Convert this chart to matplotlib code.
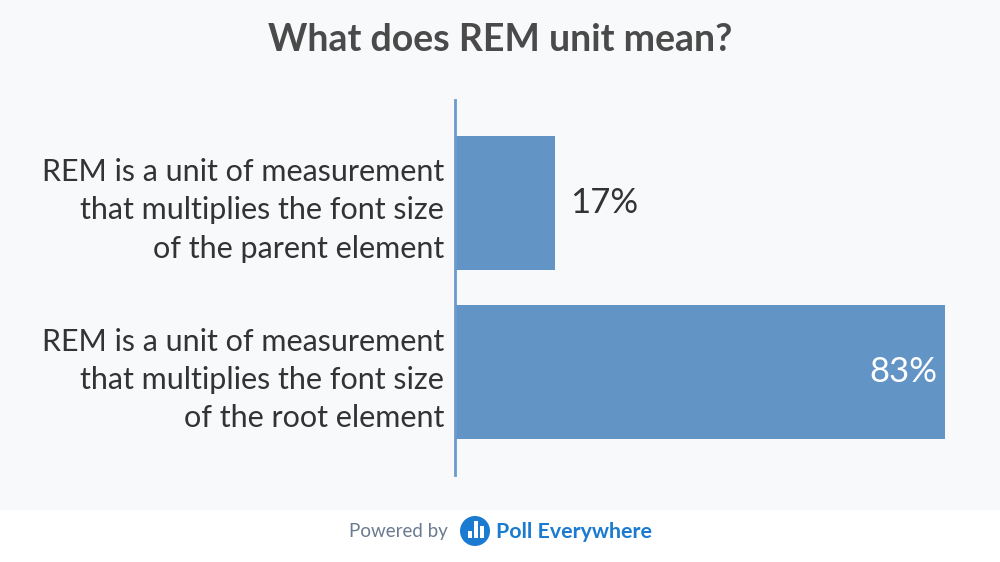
import matplotlib.pyplot as plt
from matplotlib.patches import Circle, Rectangle

labels = [
    "REM is a unit of measurement\nthat multiplies the font size\nof the parent element",
    "REM is a unit of measurement\nthat multiplies the font size\nof the root element",
]
values = [17, 83]
title = "What does REM unit mean?"

bg = "#f8f9fb"
bar_color = "#6394c6"
font = "Lato"

fig = plt.figure(figsize=(10, 5.62), dpi=100)
fig.patch.set_facecolor("white")

# light panel behind the chart, white footer below
fig.add_artist(Rectangle((0, 52 / 562), 1, 1, transform=fig.transFigure,
                         facecolor=bg, edgecolor="none", zorder=0))

ax = fig.add_axes([455 / 1000, (562 - 475) / 562, 495 / 1000, 375 / 562])
ax.set_facecolor("none")
ypos = list(range(len(values)))
ax.barh(ypos, values, height=0.79, color=bar_color, zorder=2)
ax.set_xlim(0, 83 * 495 / 490)
ax.set_ylim(len(values) - 0.393, -0.607)

ax.set_yticks(ypos)
ax.set_yticklabels(labels, fontsize=22, color="#333333", family=font,
                   linespacing=1.45, ha="right")
ax.tick_params(axis="y", length=0, pad=8)
ax.set_xticks([])
for s in ["top", "right", "bottom"]:
    ax.spines[s].set_visible(False)
ax.spines["left"].set_color("#6a9bcb")
ax.spines["left"].set_linewidth(2)

for y, v in zip(ypos, values):
    if v > 50:
        ax.text(v - 1.3, y, f"{v}%", ha="right", va="center", fontsize=25,
                color="white", family=font)
    else:
        ax.text(v + 2.5, y, f"{v}%", ha="left", va="center", fontsize=25,
                color="#333333", family=font)

fig.text(0.5, 1 - 40 / 562, title, ha="center", va="center", fontsize=27,
         fontweight="bold", color="#4a4a4a", family=font)

# footer
fig.text(448 / 1000, 1 - 532 / 562, "Powered by", ha="right", va="center",
         fontsize=13.5, color="#6b7a90", family=font)
fig.add_artist(Circle((475, 562 - 531), 15, transform=None, facecolor="#1a7bd0",
                      edgecolor="none", zorder=5))
for dx, h in [(-7, 7), (-1, 17), (5, 12)]:
    fig.add_artist(Rectangle((475 + dx, 562 - 531 - 7), 4, h, transform=None,
                             facecolor="white", edgecolor="none", zorder=6))
fig.text(496 / 1000, 1 - 532 / 562, "Poll Everywhere", ha="left", va="center",
         fontsize=15.4, fontweight="bold", color="#1a7bd0", family=font)

fig.savefig("out.png", dpi=100, facecolor=fig.get_facecolor())
